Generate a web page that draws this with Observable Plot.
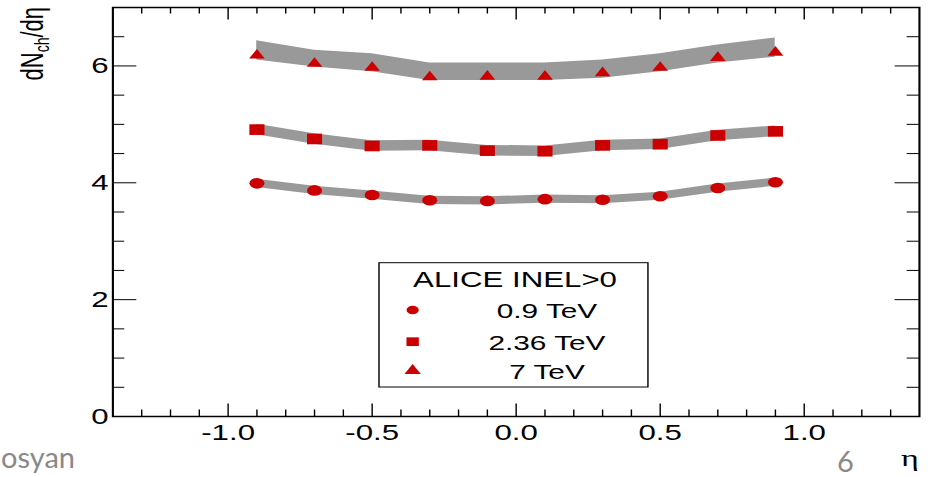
<!DOCTYPE html>
<html><head><meta charset="utf-8">
<script src="https://cdn.jsdelivr.net/npm/d3@7"></script>
<script src="https://cdn.jsdelivr.net/npm/@observablehq/plot@0.6"></script>
<style>
html,body{margin:0;padding:0;background:#fff;overflow:hidden}
#chart svg{transform:scaleX(1.42);transform-origin:0 0;display:block;max-width:none}
</style></head><body><div id="chart"></div>
<script>
// ---- data ----
const eta = [-0.9, -0.7, -0.5, -0.3, -0.1, 0.1, 0.3, 0.5, 0.7, 0.9];
const dn09 = [3.99, 3.87, 3.79, 3.70, 3.69, 3.72, 3.71, 3.77, 3.91, 4.01];
const sys09 = [0.07, 0.07, 0.07, 0.07, 0.07, 0.07, 0.07, 0.07, 0.07, 0.07];
const dn236 = [4.91, 4.75, 4.63, 4.64, 4.55, 4.54, 4.64, 4.66, 4.81, 4.88];
const sys236 = [0.09, 0.09, 0.09, 0.09, 0.09, 0.09, 0.09, 0.09, 0.09, 0.09];
const dn7 = [6.18, 6.04, 5.97, 5.81, 5.82, 5.82, 5.88, 5.97, 6.14, 6.23];
const band7Lo = [6.10, 5.98, 5.90, 5.75, 5.75, 5.75, 5.79, 5.90, 6.05, 6.15];
const band7Hi = [6.43, 6.27, 6.21, 6.05, 6.05, 6.05, 6.10, 6.21, 6.36, 6.48];
const seriesNames = ["0.9 TeV", "2.36 TeV", "7 TeV"];
const legendTitle = "ALICE INEL>0";
const xMajor = [-1.0, -0.5, 0.0, 0.5, 1.0];
const xMinor = [-1.3, -1.2, -1.1, -0.9, -0.8, -0.7, -0.6, -0.4, -0.3, -0.2, -0.1, 0.1, 0.2, 0.3, 0.4, 0.6, 0.7, 0.8, 0.9, 1.1, 1.2, 1.3];
const yMajor = [0, 2, 4, 6];
const yMinor = [0.5, 1, 1.5, 2.5, 3, 3.5, 4.5, 5, 5.5, 6.5];

// ---- layout ----
const S = 1.42, W = 660, H = 477, mL = 79, mR = 13, mT = 7, mB = 61;
const innerW = W - mL - mR, innerH = H - mT - mB;
const RED = "#cc0000", GREY = "#999999";

const table = [];
eta.forEach((e, i) => table.push({eta: e, y: dn09[i], lo: dn09[i] - sys09[i], hi: dn09[i] + sys09[i], s: seriesNames[0]}));
eta.forEach((e, i) => table.push({eta: e, y: dn236[i], lo: dn236[i] - sys236[i], hi: dn236[i] + sys236[i], s: seriesNames[1]}));
eta.forEach((e, i) => table.push({eta: e, y: dn7[i], lo: band7Lo[i], hi: band7Hi[i], s: seriesNames[2]}));

const plot = Plot.plot({
  width: W, height: H,
  marginLeft: mL, marginRight: mR, marginTop: mT, marginBottom: mB,
  x: {domain: [-1.4, 1.4]},
  y: {domain: [0, 7]},
  style: {fontFamily: "Liberation Sans, Arial, sans-serif", background: "white", color: "black"},
  marks: [
    Plot.areaY(table, {x: "eta", y1: "lo", y2: "hi", z: "s", fill: GREY}),
    Plot.dot(table.filter(d => d.s === seriesNames[0]), {x: "eta", y: "y", symbol: "circle", r: 5.3, fill: RED}),
    Plot.dot(table.filter(d => d.s === seriesNames[1]), {x: "eta", y: "y", symbol: "square", r: 6.0, fill: RED}),
    Plot.dot(table.filter(d => d.s === seriesNames[2]), {x: "eta", y: "y", symbol: "triangle", r: 4.1, fill: RED}),
    // ticks, all four sides, pointing inward
    Plot.tickX(xMajor, {insetTop: innerH - 12.5, stroke: "black", strokeWidth: 1}),
    Plot.tickX(xMinor, {insetTop: innerH - 6.5, stroke: "black", strokeWidth: 1}),
    Plot.tickX(xMajor, {insetBottom: innerH - 12.5, stroke: "black", strokeWidth: 1}),
    Plot.tickX(xMinor, {insetBottom: innerH - 6.5, stroke: "black", strokeWidth: 1}),
    Plot.tickY(yMajor, {insetRight: innerW - 17, stroke: "black", strokeWidth: 1}),
    Plot.tickY(yMinor, {insetRight: innerW - 8.5, stroke: "black", strokeWidth: 1}),
    Plot.tickY(yMajor, {insetLeft: innerW - 17, stroke: "black", strokeWidth: 1}),
    Plot.tickY(yMinor, {insetLeft: innerW - 8.5, stroke: "black", strokeWidth: 1}),
    Plot.axisX({ticks: xMajor, tickSize: 0, tickPadding: 8, tickFormat: d => d.toFixed(1), fontSize: 22, label: null}),
    Plot.axisY({ticks: yMajor, tickSize: 0, tickPadding: 3, tickFormat: d => String(d), fontSize: 22, label: null}),
    Plot.frame({stroke: "black", strokeWidth: 1.5})
  ]
});
document.getElementById("chart").appendChild(plot);

const svg = d3.select(plot);
const FF = "Liberation Sans, Arial, sans-serif";

// y title
const yt = svg.append("text").attr("transform", "translate(30.5,7) rotate(-90)")
  .attr("text-anchor", "end").attr("font-family", FF).attr("font-size", 22).attr("fill", "black");
yt.append("tspan").text("dN");
yt.append("tspan").attr("font-size", 14).attr("dy", 4).text("ch");
yt.append("tspan").attr("dy", -4).text("/d\u03B7");

// x title
svg.append("text").attr("x", W - mR).attr("y", 466).attr("text-anchor", "end")
  .attr("font-family", "Liberation Serif, Times New Roman, serif").attr("font-size", 24).text("\u03B7");

// legend
const lg = svg.append("g").attr("font-family", FF).attr("fill", "black");
lg.append("rect").attr("x", 266.9).attr("y", 262.7).attr("width", 189.4).attr("height", 124.3)
  .attr("fill", "white").attr("stroke", "black").attr("stroke-width", 1);
lg.append("text").attr("x", 362.7).attr("y", 286.7).attr("text-anchor", "middle").attr("font-size", 22).text(legendTitle);
const rows = [
  {sym: d3.symbolCircle, size: Math.PI * 4.3 * 4.3, cy: 310, ty: 318.3},
  {sym: d3.symbolSquare, size: 8.7 * 8.7, cy: 341.7, ty: 350},
  {sym: d3.symbolTriangle, size: 57, cy: 370.7, ty: 379.3}
];
rows.forEach((r, i) => {
  lg.append("path").attr("d", d3.symbol(r.sym, r.size)()).attr("transform", `translate(290.6,${r.cy})`).attr("fill", RED);
  lg.append("text").attr("x", 385.2).attr("y", r.ty).attr("text-anchor", "middle").attr("font-size", 21).text(seriesNames[i]);
});

// slide footer remnants (unstretched)
const ft = svg.append("g").attr("transform", `scale(${1 / S},1)`).attr("font-family", "Lato, Open Sans, sans-serif")
  .attr("fill", "#898989").attr("text-anchor", "start");
ft.append("text").attr("x", 1).attr("y", 468).attr("font-size", 29).text("osyan");
ft.append("text").attr("x", 837).attr("y", 472).attr("font-size", 29).text("6");
</script></body></html>
